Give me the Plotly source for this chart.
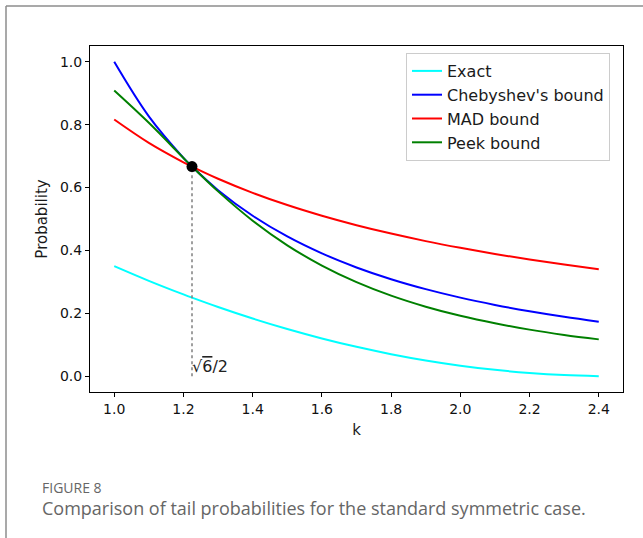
import plotly.graph_objects as go

# Data
k = [1.0, 1.1, 1.2, 1.2247, 1.3, 1.4, 1.5, 1.6, 1.7, 1.8, 1.9, 2.0, 2.1, 2.2, 2.3, 2.4]
exact = [0.3502, 0.3035, 0.2602, 0.2500, 0.2202, 0.1836, 0.1503, 0.1203, 0.0936, 0.0703,
         0.0503, 0.0337, 0.0204, 0.0104, 0.0037, 0.0004]
chebyshev = [1.0, 0.8264, 0.6944, 0.6667, 0.5917, 0.5102, 0.4444, 0.3906, 0.3460, 0.3086,
             0.2770, 0.2500, 0.2268, 0.2066, 0.1890, 0.1736]
mad = [0.8165, 0.7423, 0.6804, 0.6667, 0.6281, 0.5832, 0.5443, 0.5103, 0.4803, 0.4536,
       0.4297, 0.4083, 0.3888, 0.3711, 0.3550, 0.3402]
peek = [0.9083, 0.8057, 0.6939, 0.6667, 0.5878, 0.4947, 0.4164, 0.3519, 0.2993, 0.2563,
        0.2212, 0.1922, 0.1683, 0.1483, 0.1315, 0.1173]
series_names = ["Exact", "Chebyshev's bound", "MAD bound", "Peek bound"]
series_colors = ["#00ffff", "#0000ff", "#ff0000", "#008000"]
x_ticks = [1.0, 1.2, 1.4, 1.6, 1.8, 2.0, 2.2, 2.4]
y_ticks = [0.0, 0.2, 0.4, 0.6, 0.8, 1.0]
k_star = 1.2247
p_star = 0.6667

fig = go.Figure()
for name, ys, col in zip(series_names, [exact, chebyshev, mad, peek], series_colors):
    fig.add_trace(go.Scatter(x=k, y=ys, mode="lines", name=name,
                             line=dict(color=col, width=2, shape="spline", smoothing=1.0)))

fig.add_trace(go.Scatter(x=[k_star, k_star], y=[0.0, p_star], mode="lines",
                         line=dict(color="#808080", width=1.5, dash="dot"),
                         showlegend=False, hoverinfo="skip"))
fig.add_trace(go.Scatter(x=[k_star], y=[p_star], mode="markers",
                         marker=dict(color="black", size=11), showlegend=False))

font_family = "DejaVu Sans"
fig.add_annotation(x=k_star, y=0.0, xref="x", yref="y",
                   text="√<span style='text-decoration:overline'>6</span>/2", showarrow=False,
                   xanchor="left", yanchor="bottom", xshift=-2, yshift=-2,
                   font=dict(family=font_family, size=16, color="#222"))

L, R, T, B = 90, 20, 46, 146
W, H = 643, 538
pw, ph = W - L - R, H - T - B

def px(xp):
    return (xp - L) / pw

def py(yp):
    return (H - B - yp) / ph

fig.add_annotation(x=px(40), y=py(487), xref="paper", yref="paper", text="FIGURE 8",
                   showarrow=False, xanchor="left", yanchor="middle",
                   font=dict(family="Open Sans", size=14, color="#666"))
fig.add_annotation(x=px(40), y=py(508), xref="paper", yref="paper",
                   text="Comparison of tail probabilities for the standard symmetric case.",
                   showarrow=False, xanchor="left", yanchor="middle",
                   font=dict(family="Open Sans", size=18, color="#666"))

# outer frame
fig.add_shape(type="line", xref="paper", yref="paper", x0=px(6), x1=px(6), y0=py(6), y1=py(540),
              line=dict(color="#8c8c8c", width=1.5))
fig.add_shape(type="line", xref="paper", yref="paper", x0=px(6), x1=px(645), y0=py(6), y1=py(6),
              line=dict(color="#8c8c8c", width=1.5))

fig.update_layout(
    width=W, height=H,
    margin=dict(l=L, r=R, t=T, b=B),
    paper_bgcolor="white", plot_bgcolor="white",
    font=dict(family=font_family, size=14, color="#1a1a1a"),
    showlegend=True,
    legend=dict(x=px(610), y=py(53), xanchor="right", yanchor="top",
                bordercolor="#cccccc", borderwidth=1, bgcolor="white",
                font=dict(family=font_family, size=16, color="#1a1a1a"),
                tracegroupgap=0),
)
fig.update_xaxes(range=[0.93, 2.47], tickvals=x_ticks, ticktext=[f"{v:.1f}" for v in x_ticks],
                 showgrid=False, zeroline=False, showline=True, mirror=True,
                 linecolor="black", linewidth=1, ticks="outside", ticklen=4, tickcolor="black",
                 tickfont=dict(size=14, color="#111"),
                 title=dict(text="k", font=dict(size=15), standoff=8))
fig.update_yaxes(range=[-0.05, 1.05], tickvals=y_ticks, ticktext=[f"{v:.1f}" for v in y_ticks],
                 showgrid=False, zeroline=False, showline=True, mirror=True,
                 linecolor="black", linewidth=1, ticks="outside", ticklen=4, tickcolor="black",
                 tickfont=dict(size=14, color="#111"),
                 title=dict(text="Probability", font=dict(size=15), standoff=8))

fig.write_html("out.html")
